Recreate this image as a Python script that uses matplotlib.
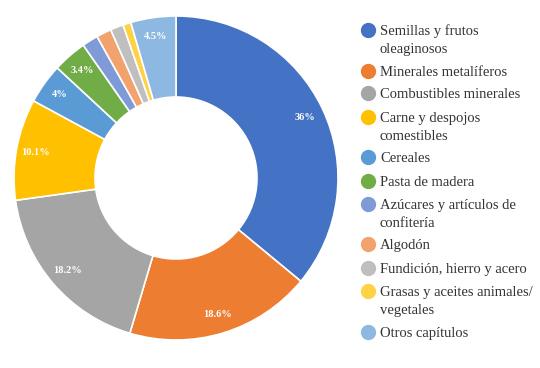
import matplotlib.pyplot as plt
from matplotlib.lines import Line2D
import numpy as np

# --- Data ---
CATEGORIES = [
    'Semillas y frutos\noleaginosos',
    'Minerales metalíferos',
    'Combustibles minerales',
    'Carne y despojos\ncomestibles',
    'Cereales',
    'Pasta de madera',
    'Azúcares y artículos de\nconfitería',
    'Algodón',
    'Fundición, hierro y acero',
    'Grasas y aceites animales/\nvegetales',
    'Otros capítulos',
]
SHARES = [36, 18.6, 18.2, 10.1, 4, 3.4, 1.6, 1.5, 1.3, 0.8, 4.5]
LABELS = ['36%', '18.6%', '18.2%', '10.1%', '4%', '3.4%', '', '', '', '', '4.5%']

COLORS = ['#4472C4', '#ED7D31', '#A5A5A5', '#FFC000', '#5B9BD5', '#70AD47',
          '#7E9BD8', '#F2A26D', '#BFBFBF', '#FFD246', '#8DB8E1']

plt.rcParams['font.family'] = ['Liberation Serif', 'DejaVu Serif']

fig = plt.figure(figsize=(5.4, 3.68), dpi=100)
ax = fig.add_axes([14 / 540, 28 / 368, 324 / 540, 324 / 368])

wedges, _ = ax.pie(
    SHARES, colors=COLORS, startangle=90, counterclock=False, radius=1.0,
    wedgeprops=dict(width=0.5, edgecolor='white', linewidth=1.2),
)

# Percentage labels inside the ring
for w, lab in zip(wedges, LABELS):
    if not lab:
        continue
    ang = np.deg2rad((w.theta1 + w.theta2) / 2)
    r = 0.88
    ax.text(r * np.cos(ang), r * np.sin(ang), lab, ha='center', va='center',
            color='white', fontsize=7.5, fontweight='bold')

ax.set_xlim(-1, 1)
ax.set_ylim(-1, 1)
ax.set_aspect('equal')
ax.axis('off')

# --- Legend, drawn by hand to keep spacing like the original ---
row_y = [30, 71, 93, 117, 157, 181, 204, 244, 268, 291, 332]
line_gap = 18
for cat, col, y in zip(CATEGORIES, COLORS, row_y):
    fy = 1 - y / 368
    fig.add_artist(Line2D([368 / 540], [fy], marker='o', markersize=10,
                          color=col, linestyle='none', transform=fig.transFigure))
    for k, part in enumerate(cat.split('\n')):
        fig.text(380 / 540, 1 - (y + k * line_gap) / 368, part,
                 ha='left', va='center_baseline', fontsize=10.5, color='#333333')

fig.savefig('out.png', dpi=100)
